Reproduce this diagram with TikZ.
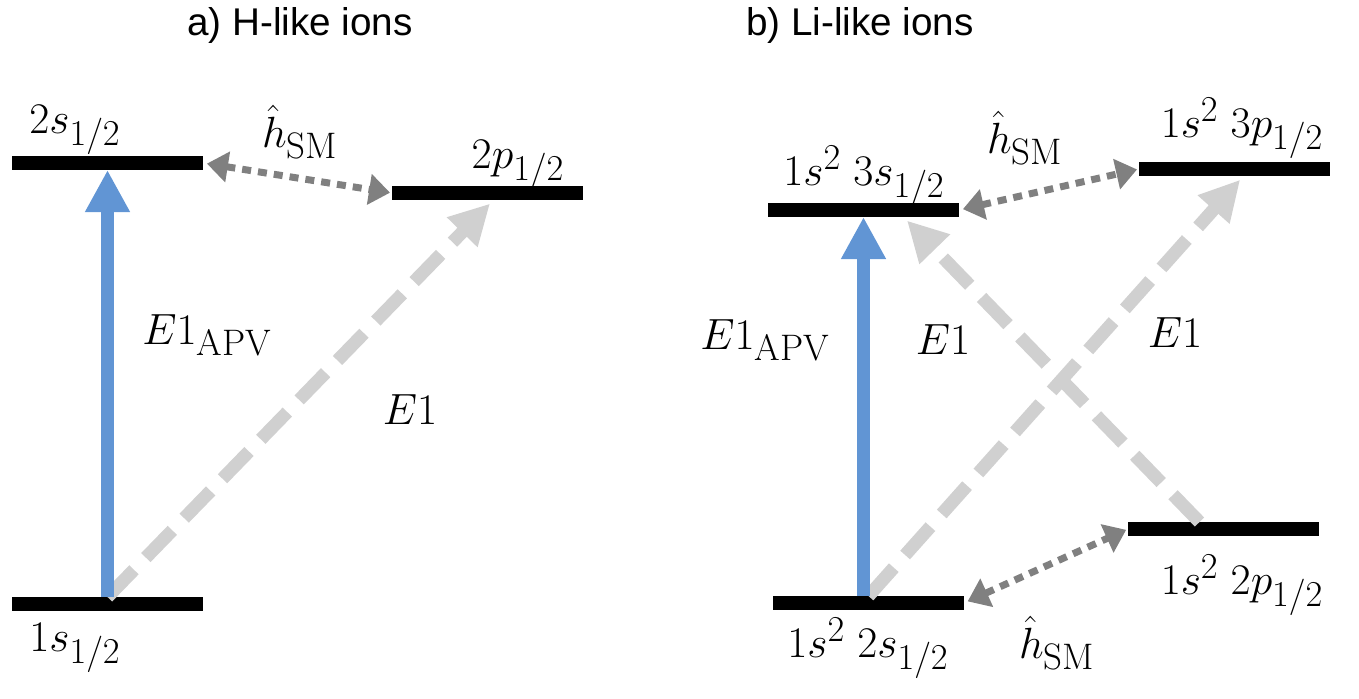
\documentclass[tikz,border=0pt]{standalone}
\usepackage{amsmath}
\usepackage{fontspec}
\setsansfont{Liberation Sans}
\usetikzlibrary{arrows.meta, calc, positioning}
\definecolor{apvblue}{RGB}{97,149,212}
\definecolor{eonegray}{RGB}{208,208,208}
\definecolor{mixgray}{RGB}{128,128,128}

\begin{document}
\begin{tikzpicture}[x=0.02cm, y=-0.02cm,
  level/.style={fill=black, minimum width=3.82cm, minimum height=0.28cm, inner sep=0pt, outer sep=0pt},
  lbl/.style={font=\fontsize{32}{38}\selectfont, inner sep=0pt},
  tlbl/.style={font=\fontsize{30}{36}\selectfont, inner sep=0pt},
  elbl/.style={font=\fontsize{28}{34}\selectfont, inner sep=0pt},
  title/.style={font=\sffamily\fontsize{22}{26}\selectfont, inner sep=0pt},
  apv/.style={draw=apvblue, line width=0.26cm, -{Triangle[length=0.84cm, width=0.84cm]}},
  eone/.style={draw=eonegray, line width=0.26cm, dash pattern=on 0.76cm off 0.34cm, -{Triangle[length=0.8cm, width=0.8cm]}},
  mix/.style={draw=mixgray, line width=0.14cm, dash pattern=on 0.18cm off 0.14cm,
    {Triangle[length=0.42cm, width=0.6cm]}-{Triangle[length=0.42cm, width=0.6cm]}, shorten <=0.08cm, shorten >=0.04cm},
]
  \useasboundingbox (0,0) rectangle (1359,698);

  % a) H-like ions
  \node[title] (ta) at (300,25) {a) H-like ions};
  \node[level] (s2) at (107.5,163) {};
  \node[level] (p2) at (487.5,193) {};
  \node[level] (s1) at (107.5,604) {};
  \node[lbl] (ls2) at (75,130) {$2s_{1/2}$};
  \node[lbl] (lp2) at (518,165) {$2p_{1/2}$};
  \node[lbl] (ls1) at (75,648) {$1s_{1/2}$};
  \node[tlbl] (lha) at (300,132) {$\hat{h}_{\mathrm{SM}}$};
  \node[tlbl] (lapva) at (207,335) {$E1_{\mathrm{APV}}$};
  \node[elbl] (le1a) at (410,410) {$E1$};
  \draw[eone, shorten >=0.1cm] (s1.north) -- ($(p2.south)+(6,0)$);
  \draw[apv] (s1.north) -- (s2.south);
  \draw[mix] (s2.east) -- (p2.west);

  % b) Li-like ions
  \node[title] (tb) at (860,25) {b) Li-like ions};
  \node[level] (s3b) at (863.5,210) {};
  \node[level] (p3b) at (1234.5,169) {};
  \node[level] (p2b) at (1223.5,529) {};
  \node[level] (s2b) at (868.5,603) {};
  \node[lbl] (ls3b) at (864,176) {$1s^2\;3s_{1/2}$};
  \node[lbl] (lp3b) at (1242,128) {$1s^2\;3p_{1/2}$};
  \node[lbl] (lp2b) at (1242,585) {$1s^2\;2p_{1/2}$};
  \node[lbl] (ls2b) at (868,648) {$1s^2\;2s_{1/2}$};
  \node[tlbl] (lhb1) at (1025,138) {$\hat{h}_{\mathrm{SM}}$};
  \node[tlbl] (lhb2) at (1057,643) {$\hat{h}_{\mathrm{SM}}$};
  \node[tlbl] (lapvb) at (765,340) {$E1_{\mathrm{APV}}$};
  \node[elbl] (le1b) at (943,340) {$E1$};
  \node[elbl] (le1c) at (1175,333) {$E1$};
  \draw[eone, shorten >=0.1cm] ($(p2b.north)+(-24,0)$) -- ($(s3b.south)+(40,0)$);
  \draw[eone, shorten >=0.1cm] (s2b.north) -- ($(p3b.south)+(9,0)$);
  \draw[apv] (s3b.south |- s2b.north) -- (s3b.south);
  \draw[mix] (s3b.east) -- (p3b.west);
  \draw[mix] (s2b.east) -- (p2b.west);
\end{tikzpicture}
\end{document}
